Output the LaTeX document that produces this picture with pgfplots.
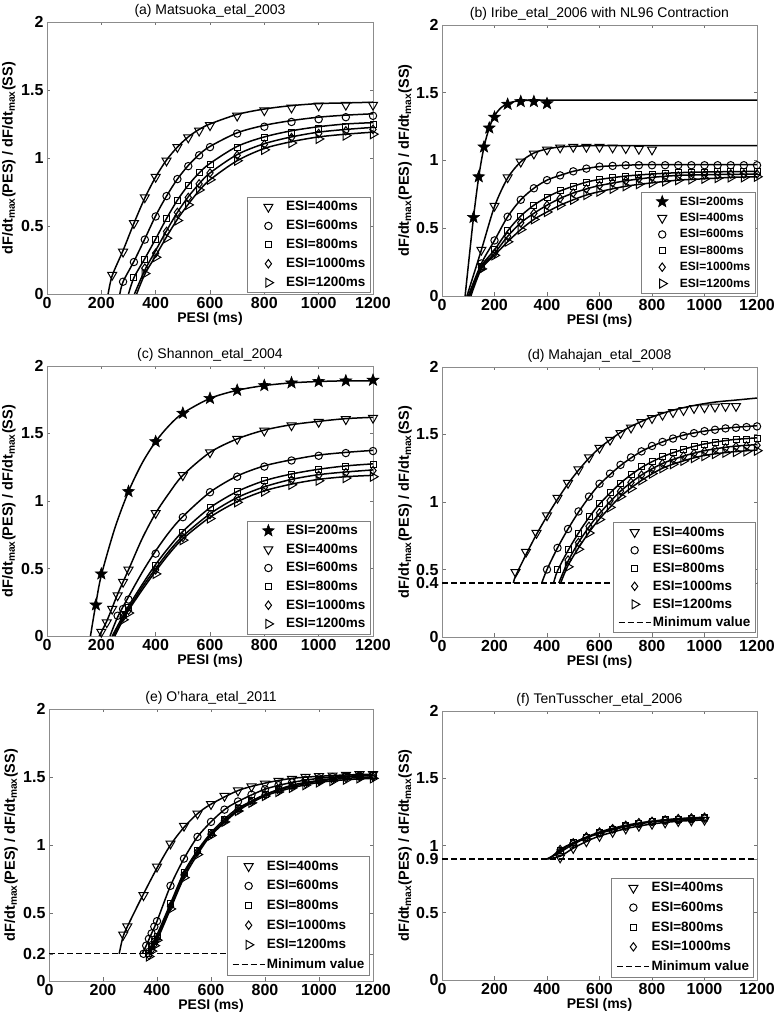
\documentclass[border=0pt]{standalone}
\usepackage{pgfplots}
\pgfplotsset{compat=1.18}
\usetikzlibrary{plotmarks}
\usepackage{fontspec}
\setmainfont{Liberation Sans}
\newcommand\tickf{\fontsize{16}{19}\selectfont\bfseries}
\newcommand\legf{\fontsize{13.5}{16}\selectfont\bfseries}
\newcommand\legfb{\fontsize{12}{14}\selectfont\bfseries}
\newcommand\titf{\fontsize{14}{16}\selectfont}
\newcommand\labf{\fontsize{14}{16}\selectfont\bfseries}
\newcommand\ylabf{\fontsize{14.5}{17}\selectfont\bfseries}

\pgfdeclareplotmark{fstar}{%
  \pgfpathmoveto{\pgfpointpolar{90}{\pgfplotmarksize}}%
  \pgfpathlineto{\pgfpointpolar{126}{0.42\pgfplotmarksize}}%
  \pgfpathlineto{\pgfpointpolar{162}{\pgfplotmarksize}}%
  \pgfpathlineto{\pgfpointpolar{198}{0.42\pgfplotmarksize}}%
  \pgfpathlineto{\pgfpointpolar{234}{\pgfplotmarksize}}%
  \pgfpathlineto{\pgfpointpolar{270}{0.42\pgfplotmarksize}}%
  \pgfpathlineto{\pgfpointpolar{306}{\pgfplotmarksize}}%
  \pgfpathlineto{\pgfpointpolar{342}{0.42\pgfplotmarksize}}%
  \pgfpathlineto{\pgfpointpolar{18}{\pgfplotmarksize}}%
  \pgfpathlineto{\pgfpointpolar{54}{0.42\pgfplotmarksize}}%
  \pgfpathclose
  \pgfusepathqfillstroke
}

\pgfplotsset{
  limg/.style={legend image code/.code={%
    \path (0pt,0pt) (34pt,0pt);
    \draw[mark repeat=2,mark phase=2] plot coordinates {(2pt,0pt) (18pt,0pt) (34pt,0pt)};}},
  base/.style={
    scale only axis, anchor=south west, clip=false,
    xmin=0, xmax=1200, ymin=0, ymax=2,
    xtick={0,200,...,1200}, ytick={0,0.5,1,1.5,2},
    tick align=inside, major tick length=3.5pt,
    every tick/.style={black!55, line width=0.5pt},
    axis line style={black!45, line width=0.6pt},
    tick label style={font=\tickf},
    /pgf/number format/assume math mode=true,
    /pgf/number format/1000 sep={},
    cycle list={{black}},
    title style={font=\titf, at={(axis description cs:0.5,1)}, anchor=base, inner sep=0pt, yshift=1pt},
    xlabel={PESI (ms)},
    ylabel={dF/dt\textsubscript{max}(PES) / dF/dt\textsubscript{max}(SS)},
    xlabel style={font=\labf, at={(axis description cs:0.5,0)}, anchor=center, yshift=-25pt},
    ylabel style={font=\ylabf, at={(axis description cs:-0.117,0.5)}, anchor=center},
    legend cell align=left,
    legend style={font=\legf, draw=black!50, line width=0.5pt, fill=white,
      anchor=south east, inner xsep=3pt, inner ysep=3pt,
      nodes={inner sep=1.5pt}},
    limg,
  },
  s200/.style={black, only marks, mark=fstar, mark size=6.2pt, mark options={solid, fill=black, line width=0.6pt}, limg},
  s400/.style={black, only marks, mark=triangle, mark size=5.2pt, mark options={solid, rotate=180, line width=1pt}, limg},
  s600/.style={black, only marks, mark=o, mark size=3.7pt, mark options={solid, line width=1pt}, limg},
  s800/.style={black, only marks, mark=square, mark size=3pt, mark options={solid, line width=1pt}, limg},
  s1000/.style={black, only marks, mark=diamond, mark size=4.2pt, mark options={solid, line width=1pt}, limg},
  s1200/.style={black, only marks, mark=triangle, mark size=5.2pt, mark options={solid, rotate=-90, line width=1pt}, limg},
  crv/.style={black, no marks, smooth, line width=1.5pt, forget plot},
  minl/.style={black, no marks, line width=1.4pt, dash pattern=on 6pt off 3pt, limg},
}

\begin{document}
\begin{tikzpicture}
\path[use as bounding box] (0pt,0pt) rectangle (774pt,1019pt);

% ---------------- (a)
\begin{axis}[base, at={(47pt,725pt)}, width=326pt, height=272pt,
  title={(a) Matsuoka\_etal\_2003},
  legend style={at={(0.991,0.004)}, row sep=5.0pt}]
\addplot[crv] coordinates {(225,0)(240,0.135)(280,0.32)(320,0.52)(360,0.705)(400,0.86)(440,0.985)(480,1.08)(520,1.155)(560,1.21)(600,1.25)(700,1.32)(800,1.36)(900,1.385)(1000,1.40)(1100,1.405)(1200,1.41)};
\addplot[crv] coordinates {(268,0)(280,0.09)(320,0.24)(360,0.405)(400,0.575)(440,0.72)(480,0.845)(520,0.945)(560,1.025)(600,1.085)(700,1.185)(800,1.24)(900,1.275)(1000,1.30)(1100,1.315)(1200,1.325)};
\addplot[crv] coordinates {(300,0)(320,0.12)(360,0.26)(400,0.405)(440,0.555)(480,0.69)(520,0.80)(560,0.89)(600,0.96)(700,1.085)(800,1.155)(900,1.20)(1000,1.23)(1100,1.25)(1200,1.26)};
\addplot[crv] coordinates {(322,0)(360,0.175)(400,0.32)(440,0.465)(480,0.60)(520,0.715)(560,0.81)(600,0.89)(700,1.025)(800,1.105)(900,1.155)(1000,1.19)(1100,1.21)(1200,1.225)};
\addplot[crv] coordinates {(330,0)(360,0.145)(400,0.28)(440,0.42)(480,0.55)(520,0.66)(560,0.76)(600,0.84)(700,0.98)(800,1.07)(900,1.12)(1000,1.155)(1100,1.175)(1200,1.19)};
\addplot[s400] coordinates {(240,0.14)(280,0.31)(320,0.52)(360,0.71)(400,0.86)(440,0.98)(480,1.08)(520,1.15)(560,1.20)(600,1.24)(700,1.31)(800,1.35)(900,1.37)(1000,1.385)(1100,1.39)(1200,1.39)};
\addlegendentry{ESI=400ms}
\addplot[s600] coordinates {(280,0.09)(320,0.235)(360,0.40)(400,0.57)(440,0.72)(480,0.845)(520,0.94)(560,1.02)(600,1.08)(700,1.18)(800,1.23)(900,1.265)(1000,1.285)(1100,1.30)(1200,1.31)};
\addlegendentry{ESI=600ms}
\addplot[s800] coordinates {(320,0.12)(360,0.255)(400,0.40)(440,0.555)(480,0.69)(520,0.80)(560,0.89)(600,0.955)(700,1.08)(800,1.15)(900,1.19)(1000,1.215)(1100,1.235)(1200,1.245)};
\addlegendentry{ESI=800ms}
\addplot[s1000] coordinates {(360,0.19)(400,0.30)(440,0.46)(480,0.60)(520,0.71)(560,0.81)(600,0.89)(700,1.02)(800,1.10)(900,1.15)(1000,1.18)(1100,1.20)(1200,1.21)};
\addlegendentry{ESI=1000ms}
\addplot[s1200] coordinates {(360,0.15)(400,0.27)(440,0.41)(480,0.54)(520,0.655)(560,0.765)(600,0.84)(700,0.98)(800,1.06)(900,1.11)(1000,1.14)(1100,1.165)(1200,1.175)};
\addlegendentry{ESI=1200ms}
\end{axis}

% ---------------- (b)
\begin{axis}[base, at={(442pt,723pt)}, width=315pt, height=271pt,
  title={(b) Iribe\_etal\_2006 with NL96 Contraction},
  legend style={at={(0.994,0.01)}, font=\legfb, row sep=3.5pt}]
\addplot[crv] coordinates {(88,0)(100,0.22)(120,0.58)(140,0.88)(160,1.10)(180,1.24)(200,1.33)(225,1.39)(250,1.42)(275,1.435)(300,1.442)(350,1.445)(400,1.445)(800,1.445)(1200,1.445)};
\addplot[crv] coordinates {(95,0)(150,0.34)(200,0.66)(250,0.87)(300,0.99)(350,1.055)(400,1.085)(450,1.10)(500,1.105)(600,1.11)(800,1.11)(1200,1.11)};
\addplot[crv] coordinates {(100,0)(150,0.24)(200,0.41)(250,0.585)(300,0.71)(350,0.795)(400,0.855)(450,0.89)(500,0.92)(550,0.94)(600,0.955)(700,0.965)(800,0.97)(1000,0.97)(1200,0.97)};
\addplot[crv] coordinates {(102,0)(150,0.22)(200,0.34)(250,0.48)(300,0.59)(350,0.67)(400,0.73)(450,0.775)(500,0.81)(550,0.84)(600,0.86)(700,0.885)(800,0.90)(900,0.91)(1000,0.915)(1200,0.92)};
\addplot[crv] coordinates {(105,0)(150,0.21)(200,0.315)(250,0.44)(300,0.54)(350,0.61)(400,0.67)(450,0.72)(500,0.76)(550,0.79)(600,0.815)(700,0.85)(800,0.875)(900,0.89)(1000,0.895)(1200,0.90)};
\addplot[crv] coordinates {(110,0)(150,0.20)(200,0.30)(250,0.40)(300,0.49)(350,0.565)(400,0.62)(450,0.67)(500,0.71)(550,0.745)(600,0.77)(700,0.81)(800,0.835)(900,0.855)(1000,0.865)(1100,0.875)(1200,0.88)};
\addplot[s200] coordinates {(120,0.58)(140,0.88)(160,1.10)(180,1.24)(200,1.32)(250,1.415)(300,1.435)(350,1.435)(400,1.42)};
\addlegendentry{ESI=200ms}
\addplot[s400] coordinates {(150,0.34)(200,0.665)(250,0.875)(300,0.99)(350,1.05)(400,1.08)(450,1.095)(500,1.10)(550,1.10)(600,1.10)(650,1.095)(700,1.09)(750,1.085)(800,1.08)};
\addlegendentry{ESI=400ms}
\addplot[s600] coordinates {(150,0.24)(200,0.41)(250,0.585)(300,0.71)(350,0.795)(400,0.855)(450,0.89)(500,0.92)(550,0.94)(600,0.955)(650,0.96)(700,0.965)(750,0.965)(800,0.965)(850,0.965)(900,0.965)(950,0.965)(1000,0.965)(1050,0.965)(1100,0.965)(1150,0.965)(1200,0.965)};
\addlegendentry{ESI=600ms}
\addplot[s800] coordinates {(150,0.22)(200,0.34)(250,0.48)(300,0.59)(350,0.67)(400,0.73)(450,0.775)(500,0.81)(550,0.84)(600,0.86)(650,0.875)(700,0.885)(750,0.895)(800,0.90)(850,0.905)(900,0.91)(950,0.915)(1000,0.915)(1050,0.92)(1100,0.92)(1150,0.92)(1200,0.92)};
\addlegendentry{ESI=800ms}
\addplot[s1000] coordinates {(150,0.21)(200,0.315)(250,0.44)(300,0.54)(350,0.61)(400,0.67)(450,0.72)(500,0.76)(550,0.79)(600,0.815)(650,0.835)(700,0.85)(750,0.865)(800,0.875)(850,0.88)(900,0.885)(950,0.89)(1000,0.895)(1050,0.895)(1100,0.90)(1150,0.90)(1200,0.90)};
\addlegendentry{ESI=1000ms}
\addplot[s1200] coordinates {(150,0.20)(200,0.30)(250,0.40)(300,0.49)(350,0.565)(400,0.62)(450,0.67)(500,0.71)(550,0.745)(600,0.77)(650,0.79)(700,0.81)(750,0.825)(800,0.835)(850,0.845)(900,0.855)(950,0.86)(1000,0.865)(1050,0.87)(1100,0.875)(1150,0.875)(1200,0.88)};
\addlegendentry{ESI=1200ms}
\end{axis}

% ---------------- (c)
\begin{axis}[base, at={(47pt,383pt)}, width=326pt, height=270pt,
  title={(c) Shannon\_etal\_2004},
  legend style={at={(0.991,0.007)}, row sep=4.7pt}]
\addplot[crv] coordinates {(160,0)(180,0.24)(200,0.45)(250,0.80)(300,1.07)(350,1.28)(400,1.44)(450,1.56)(500,1.65)(600,1.76)(700,1.82)(800,1.855)(900,1.875)(1000,1.885)(1100,1.89)(1200,1.89)};
\addplot[crv] coordinates {(192,0)(220,0.11)(260,0.31)(300,0.49)(350,0.72)(400,0.91)(450,1.06)(500,1.19)(600,1.36)(700,1.46)(800,1.525)(900,1.565)(1000,1.59)(1100,1.61)(1200,1.62)};
\addplot[crv] coordinates {(232,0)(260,0.14)(300,0.29)(350,0.47)(400,0.63)(450,0.77)(500,0.885)(600,1.065)(700,1.185)(800,1.26)(900,1.305)(1000,1.34)(1100,1.36)(1200,1.375)};
\addplot[crv] coordinates {(240,0)(280,0.15)(300,0.22)(350,0.38)(400,0.53)(450,0.66)(500,0.775)(600,0.95)(700,1.07)(800,1.15)(900,1.20)(1000,1.235)(1100,1.26)(1200,1.275)};
\addplot[crv] coordinates {(245,0)(280,0.13)(300,0.20)(350,0.36)(400,0.50)(450,0.63)(500,0.74)(600,0.905)(700,1.025)(800,1.105)(900,1.16)(1000,1.195)(1100,1.215)(1200,1.23)};
\addplot[crv] coordinates {(250,0)(280,0.12)(300,0.19)(350,0.34)(400,0.48)(450,0.61)(500,0.72)(600,0.88)(700,0.995)(800,1.075)(900,1.125)(1000,1.16)(1100,1.18)(1200,1.19)};
\addplot[s200] coordinates {(180,0.23)(200,0.46)(300,1.07)(400,1.44)(500,1.65)(600,1.76)(700,1.82)(800,1.855)(900,1.875)(1000,1.885)(1100,1.89)(1200,1.895)};
\addlegendentry{ESI=200ms}
\addplot[s400] coordinates {(200,0.03)(220,0.10)(240,0.20)(260,0.30)(280,0.40)(300,0.49)(400,0.91)(500,1.19)(600,1.36)(700,1.46)(800,1.52)(900,1.56)(1000,1.585)(1100,1.605)(1200,1.615)};
\addlegendentry{ESI=400ms}
\addplot[s600] coordinates {(260,0.15)(280,0.20)(300,0.27)(400,0.61)(500,0.88)(600,1.065)(700,1.18)(800,1.255)(900,1.30)(1000,1.335)(1100,1.355)(1200,1.37)};
\addlegendentry{ESI=600ms}
\addplot[s800] coordinates {(280,0.16)(300,0.21)(400,0.52)(500,0.77)(600,0.95)(700,1.07)(800,1.15)(900,1.195)(1000,1.23)(1100,1.255)(1200,1.27)};
\addlegendentry{ESI=800ms}
\addplot[s1000] coordinates {(280,0.14)(300,0.19)(400,0.49)(500,0.73)(600,0.90)(700,1.02)(800,1.10)(900,1.155)(1000,1.19)(1100,1.21)(1200,1.225)};
\addlegendentry{ESI=1000ms}
\addplot[s1200] coordinates {(280,0.12)(300,0.17)(400,0.46)(500,0.71)(600,0.87)(700,0.99)(800,1.07)(900,1.12)(1000,1.15)(1100,1.17)(1200,1.18)};
\addlegendentry{ESI=1200ms}
\end{axis}

% ---------------- (d)
\begin{axis}[base, at={(442pt,382pt)}, width=315pt, height=270pt,
  title={(d) Mahajan\_etal\_2008}, ytick={0,0.4,0.5,1,1.5,2},
  legend style={at={(0.994,0.015)}, row sep=4.1pt}]
\addplot[crv] coordinates {(272,0.40)(280,0.45)(320,0.61)(360,0.76)(400,0.895)(440,1.02)(480,1.135)(520,1.235)(560,1.325)(600,1.40)(640,1.46)(680,1.515)(720,1.56)(800,1.63)(880,1.68)(960,1.715)(1040,1.74)(1120,1.755)(1200,1.77)};
\addplot[crv] coordinates {(380,0.40)(400,0.50)(440,0.66)(480,0.80)(520,0.925)(560,1.035)(600,1.13)(680,1.27)(760,1.375)(840,1.445)(920,1.495)(1000,1.525)(1100,1.55)(1200,1.565)};
\addplot[crv] coordinates {(425,0.40)(440,0.49)(480,0.64)(520,0.77)(560,0.885)(600,0.985)(680,1.14)(760,1.255)(840,1.335)(920,1.39)(1000,1.43)(1100,1.46)(1200,1.475)};
\addplot[crv] coordinates {(445,0.40)(480,0.56)(520,0.70)(560,0.815)(600,0.915)(680,1.08)(760,1.20)(840,1.285)(920,1.34)(1000,1.38)(1100,1.41)(1200,1.425)};
\addplot[crv] coordinates {(452,0.40)(480,0.53)(520,0.66)(560,0.775)(600,0.875)(680,1.04)(760,1.16)(840,1.25)(920,1.305)(1000,1.345)(1100,1.37)(1200,1.385)};
\addplot[s400] coordinates {(280,0.48)(320,0.63)(360,0.77)(400,0.90)(440,1.03)(480,1.14)(520,1.24)(560,1.33)(600,1.40)(640,1.46)(680,1.51)(720,1.55)(760,1.59)(800,1.62)(840,1.645)(880,1.665)(920,1.68)(960,1.695)(1000,1.70)(1040,1.705)(1080,1.71)(1120,1.71)};
\addlegendentry{ESI=400ms}
\addplot[s600] coordinates {(400,0.50)(440,0.66)(480,0.80)(520,0.93)(560,1.04)(600,1.135)(640,1.21)(680,1.275)(720,1.33)(760,1.375)(800,1.415)(840,1.445)(880,1.47)(920,1.49)(960,1.51)(1000,1.525)(1040,1.535)(1080,1.545)(1120,1.55)(1160,1.555)(1200,1.56)};
\addlegendentry{ESI=600ms}
\addplot[s800] coordinates {(440,0.50)(480,0.645)(520,0.77)(560,0.89)(600,0.99)(640,1.07)(680,1.14)(720,1.205)(760,1.26)(800,1.30)(840,1.335)(880,1.365)(920,1.39)(960,1.41)(1000,1.425)(1040,1.44)(1080,1.45)(1120,1.46)(1160,1.465)(1200,1.47)};
\addlegendentry{ESI=800ms}
\addplot[s1000] coordinates {(480,0.57)(520,0.70)(560,0.82)(600,0.92)(640,1.01)(680,1.08)(720,1.145)(760,1.20)(800,1.245)(840,1.285)(880,1.315)(920,1.34)(960,1.36)(1000,1.375)(1040,1.39)(1080,1.40)(1120,1.41)(1160,1.415)(1200,1.42)};
\addlegendentry{ESI=1000ms}
\addplot[s1200] coordinates {(480,0.52)(520,0.65)(560,0.77)(600,0.87)(640,0.96)(680,1.04)(720,1.10)(760,1.16)(800,1.21)(840,1.25)(880,1.28)(920,1.305)(960,1.325)(1000,1.34)(1040,1.355)(1080,1.365)(1120,1.37)(1160,1.375)(1200,1.38)};
\addlegendentry{ESI=1200ms}
\addplot[minl] coordinates {(0,0.4)(1200,0.4)};
\addlegendentry{Minimum value}
\end{axis}

% ---------------- (e)
\begin{axis}[base, at={(49pt,38pt)}, width=324pt, height=272pt,
  title={(e) O\char39hara\_etal\_2011}, ytick={0,0.2,0.5,1,1.5,2},
  legend style={at={(0.988,0.022)}, row sep=5.7pt}]
\addplot[crv] coordinates {(260,0.2)(275,0.33)(300,0.44)(350,0.64)(400,0.83)(450,1.00)(500,1.13)(550,1.23)(600,1.30)(700,1.40)(800,1.455)(900,1.49)(1000,1.505)(1100,1.515)(1200,1.52)};
\addplot[crv] coordinates {(345,0.2)(360,0.26)(380,0.35)(400,0.44)(450,0.70)(500,0.90)(550,1.06)(600,1.17)(650,1.26)(700,1.32)(800,1.41)(900,1.46)(1000,1.49)(1100,1.505)(1200,1.515)};
\addplot[crv] coordinates {(365,0.2)(380,0.26)(400,0.34)(450,0.57)(500,0.80)(550,0.96)(600,1.09)(650,1.19)(700,1.27)(800,1.37)(900,1.44)(1000,1.475)(1100,1.50)(1200,1.51)};
\addplot[crv] coordinates {(367,0.2)(400,0.32)(450,0.55)(500,0.78)(550,0.95)(600,1.08)(700,1.26)(800,1.37)(900,1.43)(1000,1.47)(1100,1.49)(1200,1.50)};
\addplot[crv] coordinates {(370,0.2)(400,0.30)(450,0.53)(500,0.76)(550,0.93)(600,1.07)(700,1.25)(800,1.36)(900,1.42)(1000,1.46)(1100,1.48)(1200,1.49)};
\addplot[s400] coordinates {(275,0.34)(290,0.40)(350,0.63)(400,0.84)(450,1.01)(500,1.14)(550,1.23)(600,1.30)(650,1.36)(700,1.40)(750,1.43)(800,1.45)(850,1.47)(900,1.485)(950,1.50)(1000,1.505)(1050,1.51)(1100,1.515)(1150,1.52)(1200,1.52)};
\addlegendentry{ESI=400ms}
\addplot[s600] coordinates {(350,0.20)(360,0.26)(370,0.31)(380,0.35)(390,0.40)(400,0.44)(450,0.70)(500,0.90)(550,1.06)(600,1.17)(650,1.26)(700,1.32)(750,1.37)(800,1.41)(850,1.44)(900,1.46)(950,1.48)(1000,1.49)(1050,1.50)(1100,1.505)(1150,1.51)(1200,1.51)};
\addlegendentry{ESI=600ms}
\addplot[s800] coordinates {(370,0.20)(380,0.25)(390,0.29)(400,0.33)(450,0.57)(500,0.80)(550,0.96)(600,1.09)(650,1.19)(700,1.27)(750,1.33)(800,1.37)(850,1.41)(900,1.44)(950,1.46)(1000,1.475)(1050,1.49)(1100,1.50)(1150,1.505)(1200,1.51)};
\addlegendentry{ESI=800ms}
\addplot[s1000] coordinates {(370,0.19)(380,0.23)(390,0.27)(400,0.31)(450,0.55)(500,0.78)(550,0.95)(600,1.08)(650,1.18)(700,1.26)(750,1.32)(800,1.37)(850,1.40)(900,1.43)(950,1.45)(1000,1.47)(1050,1.48)(1100,1.49)(1150,1.50)(1200,1.50)};
\addlegendentry{ESI=1000ms}
\addplot[s1200] coordinates {(370,0.18)(380,0.22)(390,0.26)(400,0.30)(450,0.53)(500,0.76)(550,0.93)(600,1.07)(650,1.17)(700,1.25)(750,1.31)(800,1.36)(850,1.39)(900,1.42)(950,1.44)(1000,1.46)(1050,1.47)(1100,1.48)(1150,1.49)(1200,1.49)};
\addlegendentry{ESI=1200ms}
\addplot[minl] coordinates {(0,0.2)(1200,0.2)};
\addlegendentry{Minimum value}
\end{axis}

% ---------------- (f)
\begin{axis}[base, at={(442pt,39pt)}, width=315pt, height=269pt,
  title={(f) TenTusscher\_etal\_2006}, ytick={0,0.5,0.9,1,1.5,2},
  legend style={at={(0.99,0.011)}, row sep=5.7pt}]
\addplot[crv] coordinates {(400,0.9)(450,0.92)(500,0.98)(550,1.03)(600,1.07)(700,1.125)(800,1.16)(900,1.18)(1000,1.19)};
\addplot[crv] coordinates {(400,0.9)(450,0.95)(500,1.01)(550,1.055)(600,1.09)(700,1.14)(800,1.175)(900,1.19)(1000,1.20)};
\addplot[crv] coordinates {(405,0.9)(450,0.96)(500,1.02)(600,1.095)(700,1.145)(800,1.18)(900,1.195)(1000,1.205)};
\addplot[crv] coordinates {(410,0.9)(450,0.97)(500,1.02)(600,1.10)(700,1.15)(800,1.18)(900,1.20)(1000,1.21)};
\addplot[s400] coordinates {(450,0.91)(500,0.98)(550,1.03)(600,1.07)(650,1.10)(700,1.125)(750,1.145)(800,1.16)(850,1.17)(900,1.18)(950,1.185)(1000,1.19)};
\addlegendentry{ESI=400ms}
\addplot[s600] coordinates {(450,0.95)(500,1.01)(550,1.055)(600,1.09)(650,1.12)(700,1.14)(750,1.16)(800,1.175)(850,1.185)(900,1.19)(950,1.195)(1000,1.20)};
\addlegendentry{ESI=600ms}
\addplot[s800] coordinates {(450,0.96)(500,1.02)(550,1.06)(600,1.095)(650,1.12)(700,1.145)(750,1.165)(800,1.18)(850,1.19)(900,1.195)(950,1.20)(1000,1.205)};
\addlegendentry{ESI=800ms}
\addplot[s1000] coordinates {(450,0.97)(500,1.02)(550,1.065)(600,1.10)(650,1.125)(700,1.15)(750,1.17)(800,1.18)(850,1.19)(900,1.20)(950,1.205)(1000,1.21)};
\addlegendentry{ESI=1000ms}
\addplot[minl] coordinates {(0,0.9)(1200,0.9)};
\addlegendentry{Minimum value}
\end{axis}
\end{tikzpicture}
\end{document}
